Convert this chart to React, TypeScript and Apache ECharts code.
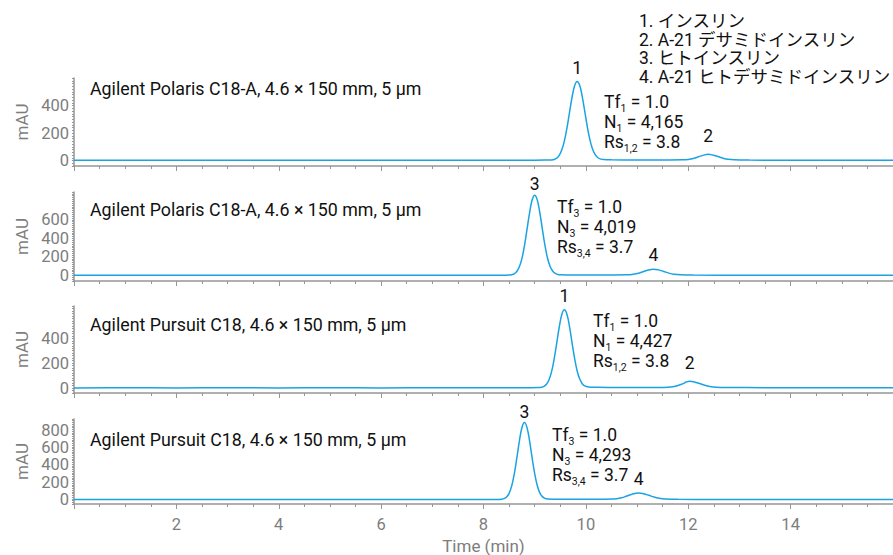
import React, { useEffect, useRef } from "react";
import * as echarts from "echarts";

type Pt = [number, number];

// Chromatogram traces [time (min), mAU]
const trace1: Pt[] = [
  [0, 1], [1, 2], [2, 1], [3, 2], [4, 1], [5, 2], [6, 1], [7, 2], [8, 2], [8.8, 2], [9.2, 3],
  [9.33, 4], [9.38, 7], [9.43, 17], [9.48, 38], [9.53, 78], [9.58, 143], [9.63, 236], [9.68, 349],
  [9.73, 460], [9.78, 544], [9.83, 575], [9.88, 545], [9.93, 463], [9.98, 353], [10.03, 241],
  [10.08, 148], [10.13, 84], [10.18, 44], [10.23, 22], [10.28, 12], [10.35, 7], [10.5, 5], [11, 4],
  [11.5, 4], [11.9, 5], [12.0, 8], [12.1, 15], [12.2, 27], [12.3, 39], [12.39, 45], [12.48, 40],
  [12.58, 29], [12.68, 17], [12.78, 9], [12.9, 5], [13.2, 3], [14, 2], [15, 2], [16, 2],
];
const trace2: Pt[] = [
  [0, 1], [1, 2], [2, 1], [3, 2], [4, 1], [5, 2], [6, 1], [7, 2], [8, 2], [8.4, 3], [8.5, 4],
  [8.55, 8], [8.6, 17], [8.65, 42], [8.7, 93], [8.75, 182], [8.8, 320], [8.85, 496], [8.9, 675],
  [8.95, 813], [9.0, 865], [9.05, 815], [9.1, 678], [9.15, 500], [9.2, 326], [9.25, 188], [9.3, 99],
  [9.35, 48], [9.4, 22], [9.45, 11], [9.5, 7], [9.7, 5], [10, 4], [10.5, 5], [10.8, 7], [10.9, 10],
  [11.0, 20], [11.1, 37], [11.2, 56], [11.32, 68], [11.42, 60], [11.52, 43], [11.62, 25], [11.72, 13],
  [11.85, 7], [12.1, 4], [13, 3], [14, 2], [15, 2], [16, 2],
];
const trace3: Pt[] = [
  [0, 1], [1, 2], [2, 1], [3, 2], [4, 1], [5, 2], [6, 1], [7, 2], [8, 2], [8.9, 3], [9.08, 4],
  [9.13, 6], [9.18, 13], [9.23, 31], [9.28, 67], [9.33, 132], [9.38, 233], [9.43, 360], [9.48, 491],
  [9.53, 591], [9.58, 629], [9.63, 593], [9.68, 494], [9.73, 364], [9.78, 238], [9.83, 137],
  [9.88, 72], [9.93, 35], [9.98, 17], [10.05, 9], [10.2, 6], [10.6, 5], [11, 4], [11.4, 5], [11.6, 7],
  [11.7, 11], [11.8, 21], [11.9, 35], [11.96, 48], [12.03, 55], [12.12, 49], [12.22, 36], [12.32, 22],
  [12.42, 12], [12.55, 6], [12.8, 4], [13.5, 3], [14.5, 2], [16, 2],
];
const trace4: Pt[] = [
  [0, 1], [1, 2], [2, 1], [3, 2], [4, 1], [5, 2], [6, 1], [7, 2], [7.9, 2], [8.3, 3], [8.35, 5],
  [8.4, 12], [8.45, 31], [8.5, 72], [8.55, 156], [8.6, 292], [8.65, 475], [8.7, 673], [8.75, 829],
  [8.8, 889], [8.85, 831], [8.9, 677], [8.95, 481], [9.0, 299], [9.05, 163], [9.1, 79], [9.15, 35],
  [9.2, 15], [9.25, 8], [9.4, 6], [9.8, 5], [10.2, 5], [10.5, 7], [10.6, 11], [10.7, 22], [10.8, 42],
  [10.9, 63], [11.03, 78], [11.13, 68], [11.23, 50], [11.33, 30], [11.43, 16], [11.55, 8], [11.8, 4],
  [12.5, 3], [14, 2], [16, 2],
];

const traces = [trace1, trace2, trace3, trace4];

const panelTitles = [
  "Agilent Polaris C18-A, 4.6 × 150 mm, 5 µm",
  "Agilent Polaris C18-A, 4.6 × 150 mm, 5 µm",
  "Agilent Pursuit C18, 4.6 × 150 mm, 5 µm",
  "Agilent Pursuit C18, 4.6 × 150 mm, 5 µm",
];

// peak labels: [label, time, height]
const peakLabels: [string, number, number][][] = [
  [["1", 9.83, 575], ["2", 12.39, 45]],
  [["3", 9.0, 865], ["4", 11.32, 68]],
  [["1", 9.58, 629], ["2", 12.03, 55]],
  [["3", 8.8, 889], ["4", 11.03, 78]],
];

// annotation lines: [symbol, subscript, value]
const annotations: [string, string, string][][] = [
  [["Tf", "1", "1.0"], ["N", "1", "4,165"], ["Rs", "1,2", "3.8"]],
  [["Tf", "3", "1.0"], ["N", "3", "4,019"], ["Rs", "3,4", "3.7"]],
  [["Tf", "1", "1.0"], ["N", "1", "4,427"], ["Rs", "1,2", "3.8"]],
  [["Tf", "3", "1.0"], ["N", "3", "4,293"], ["Rs", "3,4", "3.7"]],
];

const legendLines = [
  "1. インスリン",
  "2. A-21 デサミドインスリン",
  "3. ヒトインスリン",
  "4. A-21 ヒトデサミドインスリン",
];

const yMins = [-40, -60, -40, -50];
const yMaxs = [600, 900, 660, 930];
const yLabelValues = [
  [0, 200, 400],
  [0, 200, 400, 600],
  [0, 200, 400],
  [0, 200, 400, 600, 800],
];
const xTickLabels = [2, 4, 6, 8, 10, 12, 14];

// layout / style
const gridTops = [78, 192, 306, 419];
const gridHeights = [88, 89, 87, 88];
const titleYs = [88, 209, 324, 439];
const annoX = [604, 557, 593, 552];
const annoY = [102, 207, 321, 435];
const labelGaps = [[5, 10], [3, 5], [5, 9], [2, 5]];

const FONT = "Roboto, 'Noto Sans CJK JP', sans-serif";
const GRAY = "#7d7d7d";
const AXIS = "#969696";
const LINE = "#1aa3e3";
const TXT = 17.5;
const SUB = 10.5;

function textWidth(text: string, size: number): number {
  const t = new (echarts.graphic as any).Text({ style: { text, fontSize: size, fontFamily: FONT } });
  return t.getBoundingRect().width;
}

export default function App() {
  const ref = useRef<HTMLDivElement>(null);
  useEffect(() => {
    if (!ref.current) return;
    const chart = echarts.init(ref.current, null, { renderer: "svg" });

    const grid = gridTops.map((t, i) => ({ left: 74, right: 0, top: t, height: gridHeights[i] }));

    const xAxis = gridTops.map((_, i) => ({
      type: "value",
      gridIndex: i,
      min: 0,
      max: 16,
      interval: 2,
      axisLine: { onZero: false, lineStyle: { color: AXIS, width: 1.5 } },
      axisTick: { show: true, length: 5, lineStyle: { color: AXIS } },
      minorTick: { show: true, splitNumber: 4, length: 3, lineStyle: { color: AXIS } },
      splitLine: { show: false },
      axisLabel: {
        show: i === 3,
        customValues: xTickLabels,
        color: GRAY,
        fontSize: 16.5,
        fontFamily: FONT,
        margin: 12,
      },
      name: i === 3 ? "Time (min)" : "",
      nameLocation: "middle",
      nameGap: 33,
      nameTextStyle: { color: GRAY, fontSize: 17, fontFamily: FONT },
    }));

    const yAxis: any[] = [];
    gridTops.forEach((_, i) => {
      const minorVals: number[] = [];
      for (let v = yMins[i]; v <= yMaxs[i]; v += 20) minorVals.push(v);
      yAxis.push({
        type: "value",
        gridIndex: i,
        min: yMins[i],
        max: yMaxs[i],
        axisLine: { show: true, lineStyle: { color: AXIS, width: 1.5 } },
        axisTick: { show: true, customValues: minorVals, length: 2, lineStyle: { color: AXIS } },
        splitLine: { show: false },
        axisLabel: {
          customValues: yLabelValues[i],
          color: GRAY,
          fontSize: 16.5,
          fontFamily: FONT,
          margin: 5,
        },
        name: "mAU",
        nameLocation: "middle",
        nameGap: 44,
        nameTextStyle: { color: GRAY, fontSize: 17, fontFamily: FONT },
      });
      yAxis.push({
        type: "value",
        gridIndex: i,
        min: yMins[i],
        max: yMaxs[i],
        axisLine: { show: false },
        axisTick: { show: true, customValues: yLabelValues[i], length: 4, lineStyle: { color: AXIS } },
        axisLabel: { show: false },
        splitLine: { show: false },
      });
    });

    const series = traces.map((tr, i) => ({
      type: "line",
      xAxisIndex: i,
      yAxisIndex: i * 2,
      data: tr,
      showSymbol: false,
      smooth: 0.4,
      lineStyle: { color: LINE, width: 1.5 },
      itemStyle: { color: LINE },
      silent: true,
      markPoint: {
        symbol: "circle",
        symbolSize: 0,
        silent: true,
        label: {
          show: true,
          position: "top",
          color: "#111",
          fontSize: TXT,
          fontFamily: FONT,
          formatter: (p: any) => p.name,
        },
        data: peakLabels[i].map(([name, t, h], k) => ({
          name,
          coord: [t, h],
          label: { distance: labelGaps[i][k] },
        })),
      },
    }));

    const graphic: any[] = [];
    const txt = (text: string, x: number, y: number, size: number, lh?: number) => ({
      type: "text",
      x,
      y,
      silent: true,
      style: {
        text,
        fontSize: size,
        fontFamily: FONT,
        fill: "#111",
        verticalAlign: "middle",
        align: "left",
        ...(lh ? { lineHeight: lh } : {}),
      },
    });

    panelTitles.forEach((t, i) => graphic.push(txt(t, 90, titleYs[i], 17.8)));

    annotations.forEach((lines, i) => {
      lines.forEach(([sym, sub, val], k) => {
        const y = annoY[i] + k * 20;
        let x = annoX[i];
        graphic.push(txt(sym, x, y, TXT, 16));
        x += textWidth(sym, TXT);
        graphic.push(txt(sub, x, y + 6, SUB, 10));
        x += textWidth(sub, SUB);
        graphic.push(txt(" = " + val, x, y, TXT, 16));
      });
    });

    legendLines.forEach((ln, k) => graphic.push(txt(ln, 639, 21 + k * 18.7, TXT, 17)));

    chart.setOption({
      animation: false,
      backgroundColor: "#fff",
      grid,
      xAxis,
      yAxis,
      series,
      graphic,
    } as any);
    return () => chart.dispose();
  }, []);
  return (
    <div
      ref={ref}
      style={{ position: "fixed", left: 0, top: 0, width: 893, height: 555, background: "#fff" }}
    />
  );
}
